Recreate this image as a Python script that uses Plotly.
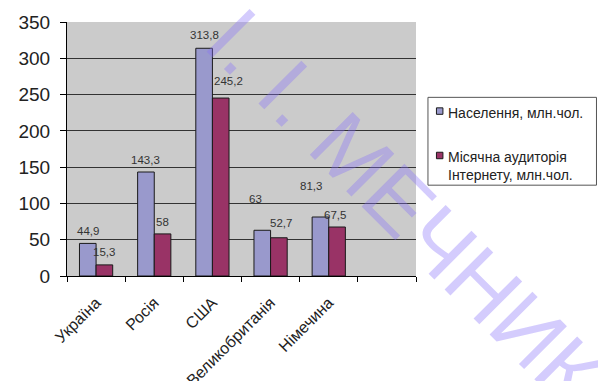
import plotly.graph_objects as go

# Countries (last slot on the category axis is intentionally empty)
countries = ["Україна", "Росія", "США", "Великобританія", "Німечина"]
population = [44.9, 143.3, 313.8, 63, 81.3]
internet_audience = [15.3, 58, 245.2, 52.7, 67.5]
y_ticks = [0, 50, 100, 150, 200, 250, 300, 350]

series_names = ["Населення, млн.чол.", "Місячна аудиторія<br>Інтернету, млн.чол."]

FONT = "Liberation Sans, Arial, sans-serif"
BLUE = "#9999cc"
WINE = "#993366"
EDGE = "#1a1a1a"

W, H = 598, 381
# plot area in pixels
PL, PR, PT, PB = 66.5, 416.5, 22, 276.5
categories = countries + [" "]


def px_x(px):
    return (px - PL) / (PR - PL)


def px_y(py):
    return (PB - py) / (PB - PT)


fig = go.Figure()
fig.add_trace(go.Bar(
    x=countries, y=population, name=series_names[0],
    marker=dict(color=BLUE, line=dict(color=EDGE, width=1)),
))
fig.add_trace(go.Bar(
    x=countries, y=internet_audience, name=series_names[1],
    marker=dict(color=WINE, line=dict(color=EDGE, width=1)),
))

# value labels (offsets in px: dx, dy above the bar top)
half_bar = 8.33
nudge_pop = [(0, 12), (0, 12), (0, 13), (-6.5, 31), (-9, 31)]
nudge_net = [(0, 13), (0, 12), (7.5, 17), (2.5, 15), (-2, 12)]


def fmt(v):
    return f"{v:g}".replace(".", ",")


for values, nudges, side in ((population, nudge_pop, -1), (internet_audience, nudge_net, 1)):
    for c, v, (dx, dy) in zip(countries, values, nudges):
        fig.add_annotation(x=c, y=v, text=fmt(v), showarrow=False,
                           xshift=side * half_bar + dx, yshift=dy, yanchor="middle",
                           font=dict(family=FONT, size=11.5, color="#333333"))

# legend box on the right
box = dict(x0=px_x(428.5), x1=px_x(597.5), y0=px_y(97.5), y1=px_y(185.5))
fig.add_shape(type="rect", xref="paper", yref="paper", **box,
              line=dict(color="#555555", width=1), fillcolor="white", layer="above")
legend_rows = [(111.5, BLUE), (156, WINE)]
for name, (cy, color) in zip(series_names, legend_rows):
    fig.add_shape(type="rect", xref="paper", yref="paper",
                  x0=px_x(437), x1=px_x(443.5), y0=px_y(cy - 3.5), y1=px_y(cy + 3),
                  line=dict(color=EDGE, width=1), fillcolor=color, layer="above")
    fig.add_annotation(text=name, xref="paper", yref="paper",
                       x=px_x(447), y=px_y(cy - 8.5), xanchor="left", yanchor="top",
                       align="left", showarrow=False,
                       font=dict(family=FONT, size=14, color="#222222"))

# diagonal watermark
fig.add_annotation(
    text="І. І. МЕЧНИК", xref="paper", yref="paper",
    x=px_x(405), y=px_y(207), xanchor="center", yanchor="middle",
    showarrow=False, textangle=45,
    font=dict(family=FONT, size=88, color="rgba(135,115,250,0.36)"),
)

fig.update_layout(
    width=W, height=H,
    margin=dict(l=PL, r=W - PR, t=PT, b=H - PB, pad=0, autoexpand=False),
    paper_bgcolor="white",
    plot_bgcolor="#cbcbcb",
    barmode="group",
    bargap=0.4286,
    bargroupgap=0,
    font=dict(family=FONT, color="#222222"),
    showlegend=False,
    xaxis=dict(
        type="category", categoryorder="array", categoryarray=categories,
        range=[-0.5, 5.5], tickson="boundaries",
        ticks="outside", ticklen=5, tickcolor="black", tickwidth=1,
        showline=True, linecolor="black", linewidth=1,
        tickangle=-45, tickfont=dict(family=FONT, size=16, color="#222222"),
        ticklabelstandoff=10, automargin=False,
        showgrid=False, fixedrange=True,
    ),
    yaxis=dict(
        range=[0, 350], tickvals=y_ticks,
        ticks="outside", ticklen=6, tickcolor="black", tickwidth=1,
        showline=True, linecolor="black", linewidth=1,
        tickfont=dict(family=FONT, size=19, color="#222222"),
        showgrid=False, zeroline=False, ticklabelstandoff=6, automargin=False,
        minor=dict(tickvals=y_ticks[1:-1], showgrid=True,
                   gridcolor="#333333", gridwidth=1),
    ),
)

fig.write_html("out.html")
